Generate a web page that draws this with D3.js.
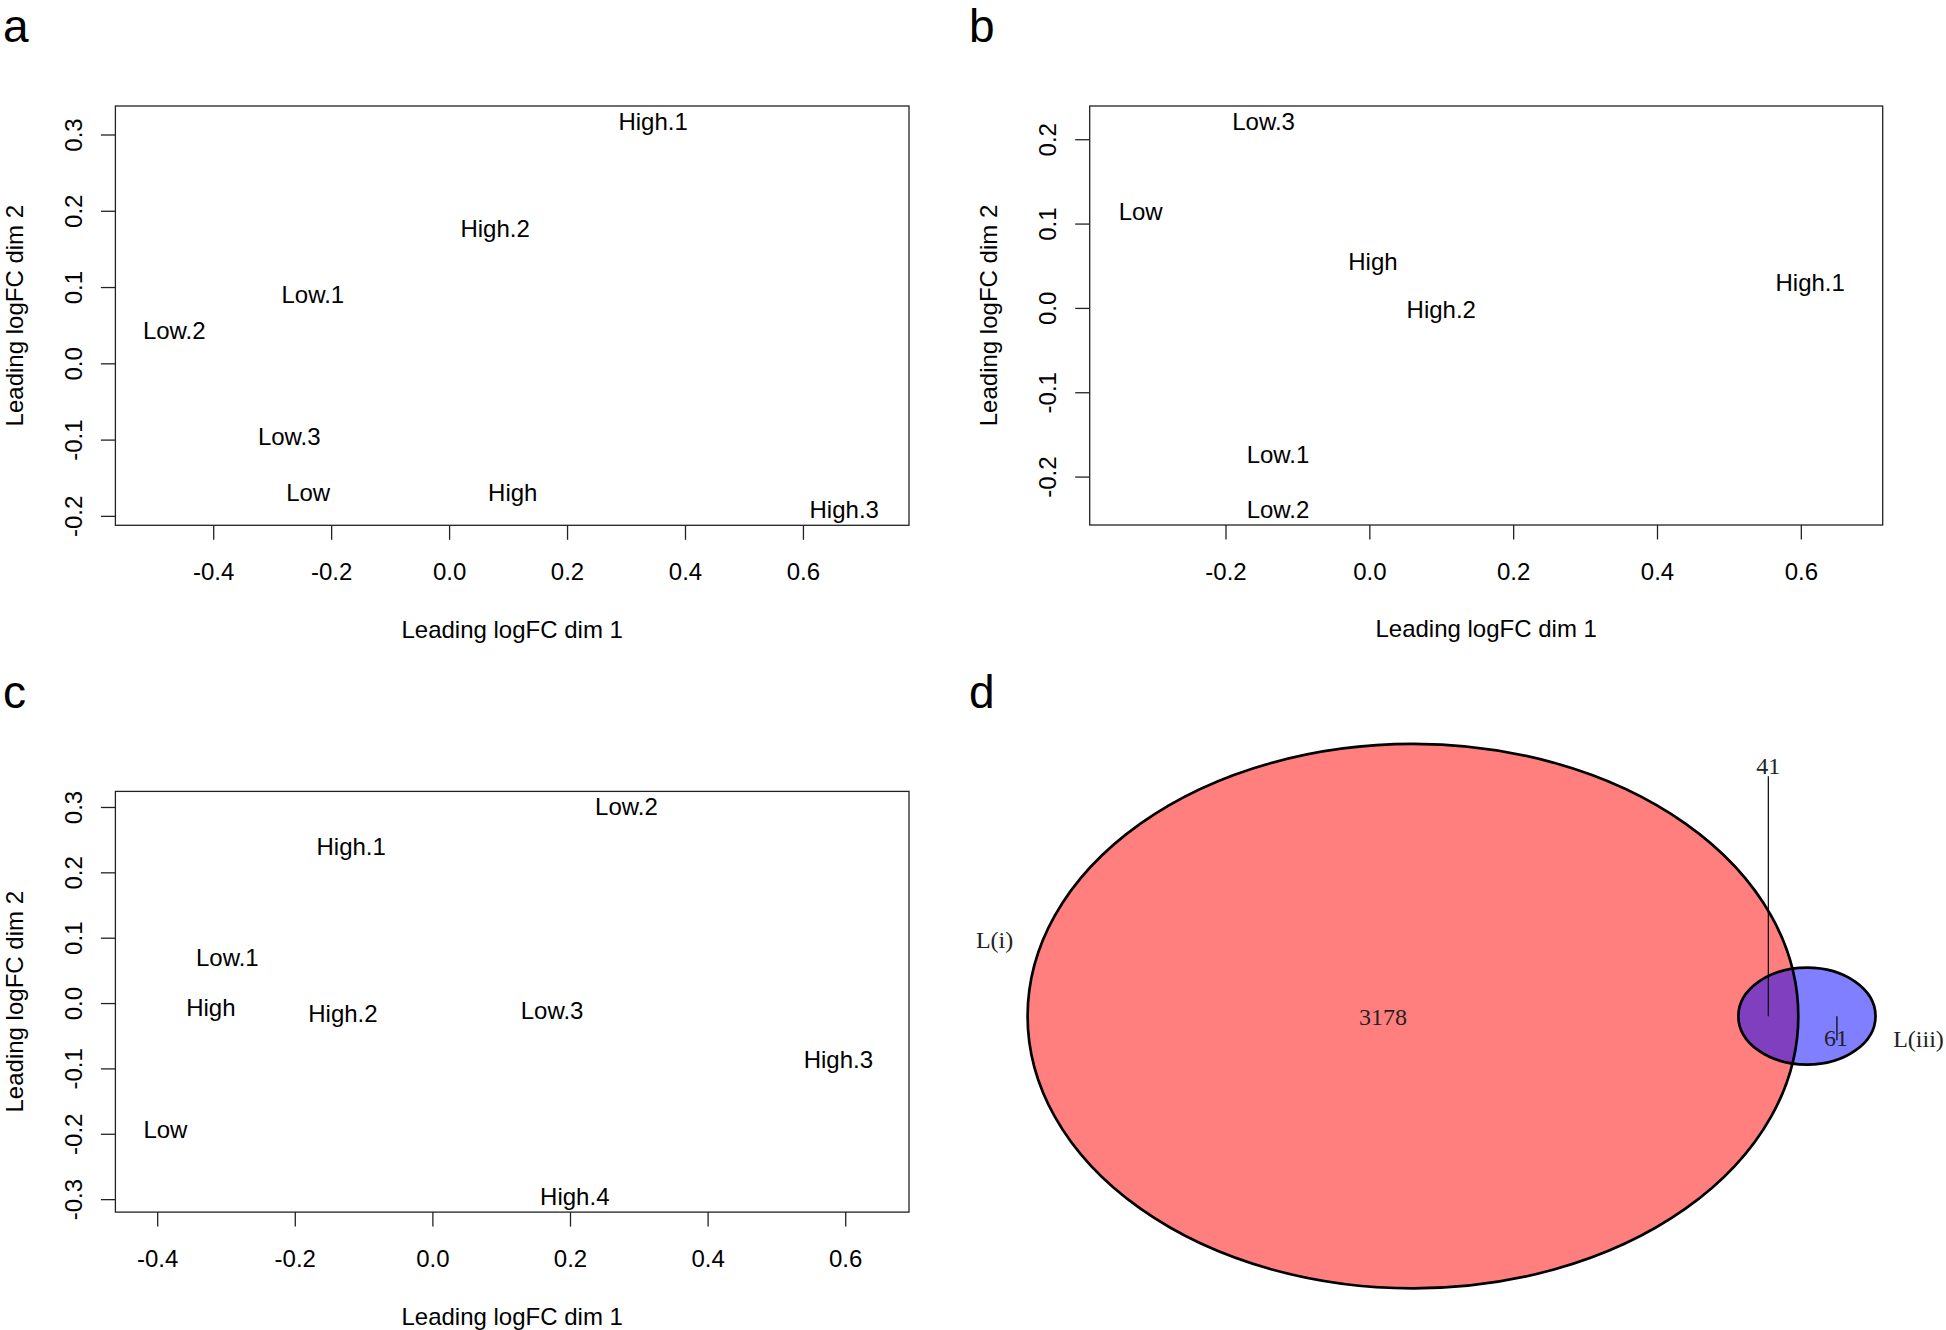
<!DOCTYPE html>
<html>
<head>
<meta charset="utf-8">
<script src="https://cdn.jsdelivr.net/npm/d3@7"></script>
<style>
  body {margin: 0; background: #fff;}
  svg text {font-family: "Liberation Sans", Arial, Helvetica, sans-serif; fill: #000;}
  svg .venn text {font-family: "Liberation Serif", "Times New Roman", serif; fill: #222;}
</style>
</head>
<body>
<div id="fig"></div>
<script>
// panel a: MDS, leading logFC
var labelsA = ["High.1", "High.2", "Low.1", "Low.2", "Low.3", "Low", "High", "High.3"];
var dim1A = [0.346, 0.078, -0.231, -0.466, -0.271, -0.239, 0.108, 0.670];
var dim2A = [0.317, 0.177, 0.090, 0.043, -0.096, -0.170, -0.170, -0.192];
var xTicksA = [-0.4, -0.2, 0.0, 0.2, 0.4, 0.6];
var yTicksA = [-0.2, -0.1, 0.0, 0.1, 0.2, 0.3];

// panel b
var labelsB = ["Low.3", "Low", "High", "High.2", "High.1", "Low.1", "Low.2"];
var dim1B = [-0.147, -0.318, 0.005, 0.100, 0.613, -0.127, -0.127];
var dim2B = [0.221, 0.114, 0.055, -0.002, 0.030, -0.174, -0.239];
var xTicksB = [-0.2, 0.0, 0.2, 0.4, 0.6];
var yTicksB = [-0.2, -0.1, 0.0, 0.1, 0.2];

// panel c
var labelsC = ["Low.2", "High.1", "Low.1", "High", "High.2", "Low.3", "High.3", "Low", "High.4"];
var dim1C = [0.282, -0.118, -0.298, -0.322, -0.130, 0.174, 0.590, -0.388, 0.207];
var dim2C = [0.300, 0.240, 0.069, -0.007, -0.016, -0.011, -0.086, -0.194, -0.296];
var xTicksC = [-0.4, -0.2, 0.0, 0.2, 0.4, 0.6];
var yTicksC = [-0.3, -0.2, -0.1, 0.0, 0.1, 0.2, 0.3];

// panel d: venn counts (only first set, overlap, only second set)
var vennSets = ["L(i)", "L(iii)"];
var vennCounts = [3178, 41, 61];

var W = 1946, H = 1330;
var svg = d3.select("#fig").append("svg")
    .attr("width", W)
    .attr("height", H);

svg.append("rect").attr("width", W).attr("height", H).attr("fill", "#fff");

var fmt = function (d) { return d.toFixed(1); };
var fs = 24;

function drawMDS(box, labels, dim1, dim2, xTicks, yTicks) {
    // limits like limma::plotMDS (room for labels) + 4% pad
    var rad = labels.map(function (l) { return 0.01 * l.length; });
    var xlo = d3.min(dim1.map(function (v, i) { return v - rad[i]; }));
    var xhi = d3.max(dim1.map(function (v, i) { return v + rad[i]; }));
    var xp = (xhi - xlo) * 0.04;
    var ylo = d3.min(dim2), yhi = d3.max(dim2);
    var yp = (yhi - ylo) * 0.04;

    var x = d3.scaleLinear().domain([xlo - xp, xhi + xp]).range([box.x0, box.x1]);
    var y = d3.scaleLinear().domain([ylo - yp, yhi + yp]).range([box.y1, box.y0]);

    var g = svg.append("g");

    //x axis
    var gx = g.append("g")
        .attr("transform", "translate(0," + box.y1 + ")")
        .call(d3.axisBottom(x).tickValues(xTicks).tickFormat(fmt).tickSize(14.5).tickPadding(23));
    gx.select(".domain").remove();
    gx.attr("font-size", fs).attr("font-family", null);
    gx.selectAll(".tick line").attr("stroke", "#222").attr("stroke-width", 1.3);

    //y axis, labels parallel to axis
    var gy = g.append("g")
        .attr("transform", "translate(" + box.x0 + ",0)")
        .call(d3.axisLeft(y).tickValues(yTicks).tickFormat(fmt).tickSize(14.5));
    gy.select(".domain").remove();
    gy.attr("font-size", fs).attr("font-family", null);
    gy.selectAll(".tick line").attr("stroke", "#222").attr("stroke-width", 1.3);
    gy.selectAll(".tick text")
        .attr("x", 0)
        .attr("dy", "0.35em")
        .attr("text-anchor", "middle")
        .attr("transform", "translate(-42,0) rotate(-90)");

    //frame
    g.append("rect")
        .attr("x", box.x0).attr("y", box.y0)
        .attr("width", box.x1 - box.x0).attr("height", box.y1 - box.y0)
        .attr("fill", "none").attr("stroke", "#222").attr("stroke-width", 1.3);

    //sample labels
    g.selectAll(".lab")
        .data(labels)
        .enter().append("text")
        .attr("class", "lab")
        .attr("x", function (d, i) { return x(dim1[i]); })
        .attr("y", function (d, i) { return y(dim2[i]); })
        .attr("dy", "0.35em")
        .attr("text-anchor", "middle")
        .attr("font-size", fs)
        .text(function (d) { return d; });

    //axis titles
    g.append("text")
        .attr("x", (box.x0 + box.x1) / 2)
        .attr("y", box.y1 + 104)
        .attr("dy", "0.35em")
        .attr("text-anchor", "middle")
        .attr("font-size", fs)
        .text("Leading logFC dim 1");
    g.append("text")
        .attr("transform", "translate(" + (box.x0 - 101) + "," + ((box.y0 + box.y1) / 2) + ") rotate(-90)")
        .attr("dy", "0.35em")
        .attr("text-anchor", "middle")
        .attr("font-size", fs)
        .text("Leading logFC dim 2");
}

drawMDS({x0: 115.4, x1: 909, y0: 106, y1: 525.3}, labelsA, dim1A, dim2A, xTicksA, yTicksA);
drawMDS({x0: 1089.7, x1: 1882.7, y0: 106, y1: 525}, labelsB, dim1B, dim2B, xTicksB, yTicksB);
drawMDS({x0: 115.4, x1: 909, y0: 791.4, y1: 1212.1}, labelsC, dim1C, dim2C, xTicksC, yTicksC);

//panel letters
var letters = [["a", 3, 42], ["b", 969, 42], ["c", 3, 708], ["d", 969, 708]];
svg.selectAll(".letter")
    .data(letters)
    .enter().append("text")
    .attr("class", "letter")
    .attr("x", function (d) { return d[1]; })
    .attr("y", function (d) { return d[2]; })
    .attr("font-size", 46)
    .text(function (d) { return d[0]; });

// venn: areas proportional to set sizes
function lens(r, R, d) {
    if (d >= r + R) return 0;
    if (d <= Math.abs(R - r)) return Math.PI * Math.min(r, R) * Math.min(r, R);
    var a = r * r * Math.acos((d * d + r * r - R * R) / (2 * d * r));
    var b = R * R * Math.acos((d * d + R * R - r * r) / (2 * d * R));
    var c = 0.5 * Math.sqrt((-d + r + R) * (d + r - R) * (d - r + R) * (d + r + R));
    return a + b - c;
}
var R1 = Math.sqrt((vennCounts[0] + vennCounts[1]) / Math.PI);
var r2 = Math.sqrt((vennCounts[2] + vennCounts[1]) / Math.PI);
var lo = R1 - r2, hi = R1 + r2;
for (var it = 0; it < 80; it++) {
    var mid = (lo + hi) / 2;
    if (lens(r2, R1, mid) > vennCounts[1]) lo = mid; else hi = mid;
}
var dist = (lo + hi) / 2;

var vx = d3.scaleLinear().domain([-R1, R1]).range([1027.6, 1798.3]);
var vy = d3.scaleLinear().domain([R1, -R1]).range([743.9, 1288.4]);

var venn = svg.append("g").attr("class", "venn");
var ells = [
    {cx: 0, r: R1, fill: "#ff0000"},
    {cx: dist, r: r2, fill: "#0000ff"}
];
venn.selectAll(".fillE")
    .data(ells)
    .enter().append("ellipse")
    .attr("class", "fillE")
    .attr("cx", function (d) { return vx(d.cx); })
    .attr("cy", vy(0))
    .attr("rx", function (d) { return vx(d.cx + d.r) - vx(d.cx); })
    .attr("ry", function (d) { return vy(-d.r) - vy(0); })
    .attr("fill", function (d) { return d.fill; })
    .attr("fill-opacity", 0.5);
venn.selectAll(".lineE")
    .data(ells)
    .enter().append("ellipse")
    .attr("class", "lineE")
    .attr("cx", function (d) { return vx(d.cx); })
    .attr("cy", vy(0))
    .attr("rx", function (d) { return vx(d.cx + d.r) - vx(d.cx); })
    .attr("ry", function (d) { return vy(-d.r) - vy(0); })
    .attr("fill", "none")
    .attr("stroke", "#000")
    .attr("stroke-width", 2.7);

var cy0 = vy(0);
var xOnly1 = vx(((-R1) + (dist - r2)) / 2);
var xBoth = vx(((dist - r2) + R1) / 2);
var xOnly2 = vx((R1 + (dist + r2)) / 2);

venn.append("text")
    .attr("x", xOnly1).attr("y", cy0).attr("dy", "0.35em")
    .attr("text-anchor", "middle").attr("font-size", 24)
    .text(vennCounts[0]);

//overlap label pulled out above with a leader
venn.append("line")
    .attr("x1", xBoth).attr("x2", xBoth)
    .attr("y1", cy0).attr("y2", cy0 - 240)
    .attr("stroke", "#000").attr("stroke-width", 1.2);
venn.append("text")
    .attr("x", xBoth).attr("y", cy0 - 251).attr("dy", "0.35em")
    .attr("text-anchor", "middle").attr("font-size", 24)
    .text(vennCounts[1]);

venn.append("line")
    .attr("x1", xOnly2).attr("x2", xOnly2)
    .attr("y1", cy0).attr("y2", cy0 + 24)
    .attr("stroke", "#000").attr("stroke-width", 1.2);
venn.append("text")
    .attr("x", xOnly2 - 1).attr("y", cy0 + 21).attr("dy", "0.35em")
    .attr("text-anchor", "middle").attr("font-size", 24)
    .text(vennCounts[2]);

//set names
venn.append("text")
    .attr("x", vx(-R1) - 33).attr("y", cy0 - 77).attr("dy", "0.35em")
    .attr("text-anchor", "middle").attr("font-size", 24)
    .text(vennSets[0]);
venn.append("text")
    .attr("x", vx(dist + r2) + 43).attr("y", cy0 + 22).attr("dy", "0.35em")
    .attr("text-anchor", "middle").attr("font-size", 24)
    .text(vennSets[1]);
</script>
</body>
</html>
